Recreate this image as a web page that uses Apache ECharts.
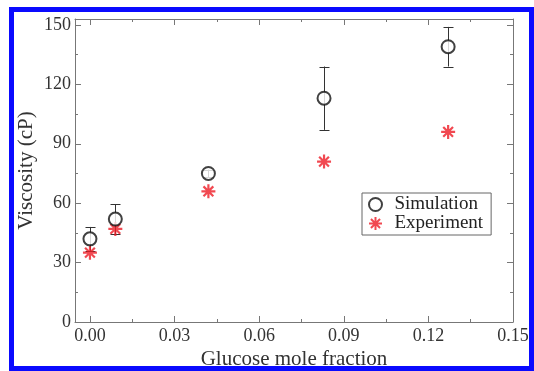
<!DOCTYPE html>
<html>
<head>
<meta charset="utf-8">
<script src="https://cdn.jsdelivr.net/npm/echarts@6/dist/echarts.min.js"></script>
<style>
html,body{margin:0;padding:0;background:#fff;}
#c{width:534px;height:371px;}
</style>
</head>
<body>
<div id="c"></div>
<script>
const xMajor = [0, 0.03, 0.06, 0.09, 0.12, 0.15];
const xMinor = [0.015, 0.045, 0.075, 0.105, 0.135];
const yMajor = [0, 30, 60, 90, 120, 150];
const yMinor = [15, 45, 75, 105, 135];
const moleFraction = [0.0, 0.009, 0.042, 0.083, 0.127];
const simulation = [42, 52, 75, 113, 139];
const simulationErr = [6, 7.5, 2, 16, 10];
const experiment = [35, 47, 66, 81, 96];

const X_MIN = -0.0053, X_MAX = 0.15, Y_MIN = 0, Y_MAX = 153;
const axisColor = '#777';
const font = 'Liberation Serif, Times New Roman, serif';

function xAx(pos, vals, len, labels, line) {
  return {
    type: 'value', min: X_MIN, max: X_MAX, position: pos,
    axisLine: { show: line, onZero: false, lineStyle: { color: axisColor, width: 1 } },
    axisTick: { show: true, inside: true, length: len, customValues: vals, lineStyle: { color: axisColor } },
    axisLabel: labels ? { show: true, customValues: vals, formatter: v => v.toFixed(2), fontFamily: font, fontSize: 18, color: '#333', margin: 5 } : { show: false },
    splitLine: { show: false },
    name: labels ? 'Glucose mole fraction' : '', nameLocation: 'middle', nameGap: 27, nameMoveOverlap: false,
    nameTextStyle: { fontFamily: font, fontSize: 21, color: '#333' }
  };
}
function yAx(pos, vals, len, labels, line) {
  return {
    type: 'value', min: Y_MIN, max: Y_MAX, position: pos,
    axisLine: { show: line, onZero: false, lineStyle: { color: axisColor, width: 1 } },
    axisTick: { show: true, inside: true, length: len, customValues: vals, lineStyle: { color: axisColor } },
    axisLabel: labels ? { show: true, customValues: vals, fontFamily: font, fontSize: 18, color: '#333', margin: 4 } : { show: false },
    splitLine: { show: false },
    name: labels ? 'Viscosity (cP)' : '', nameLocation: 'middle', nameGap: 38, nameMoveOverlap: false,
    nameTextStyle: { fontFamily: font, fontSize: 21, color: '#333' }
  };
}

const simData = moleFraction.map((x, i) => [x, simulation[i]]);
const expData = moleFraction.map((x, i) => [x, experiment[i]]);
const errData = moleFraction.map((x, i) => [x, simulation[i] - simulationErr[i], simulation[i] + simulationErr[i]]);

const asterisk = 'path://M5,0 L5,10 M0,5 L10,5 M1.5,1.5 L8.5,8.5 M1.5,8.5 L8.5,1.5';

const chart = echarts.init(document.getElementById('c'), null, { renderer: 'canvas' });
chart.setOption({
  animation: false,
  backgroundColor: '#fff',
  grid: { left: 75, right: 21, top: 19, bottom: 49, outerBoundsMode: 'none', containLabel: false },
  xAxis: [
    xAx('bottom', xMajor, 6, true, true),
    xAx('bottom', xMinor, 3, false, false),
    xAx('top', xMajor, 6, false, true),
    xAx('top', xMinor, 3, false, false)
  ],
  yAxis: [
    yAx('left', yMajor, 6, true, true),
    yAx('left', yMinor, 3, false, false),
    yAx('right', yMajor, 6, false, true),
    yAx('right', yMinor, 3, false, false)
  ],
  legend: {
    orient: 'vertical', left: 362, top: 193, itemGap: 0, itemWidth: 14, itemHeight: 13,
    padding: [2, 8, 2, 6], borderColor: '#666', borderWidth: 1, backgroundColor: '#fff',
    textStyle: { fontFamily: font, fontSize: 19, color: '#222', padding: [0, 0, 0, 7] },
    data: ['Simulation', 'Experiment']
  },
  graphic: [{
    type: 'rect', shape: { x: 11.5, y: 9.5, width: 520, height: 359 },
    style: { fill: 'none', stroke: '#0a0aff', lineWidth: 5 }, z: 100
  }],
  series: [
    {
      type: 'custom', name: 'err', xAxisIndex: 0, yAxisIndex: 0, z: 1,
      data: errData,
      renderItem: function (params, api) {
        const top = api.coord([api.value(0), api.value(2)]);
        const bot = api.coord([api.value(0), api.value(1)]);
        const x = Math.round(top[0]) + 0.5;
        const w = 5;
        const st = { stroke: '#333', lineWidth: 1 };
        return { type: 'group', children: [
          { type: 'line', shape: { x1: x, y1: top[1], x2: x, y2: bot[1] }, style: st },
          { type: 'line', shape: { x1: x - w, y1: Math.round(top[1]) + 0.5, x2: x + w, y2: Math.round(top[1]) + 0.5 }, style: st },
          { type: 'line', shape: { x1: x - w, y1: Math.round(bot[1]) + 0.5, x2: x + w, y2: Math.round(bot[1]) + 0.5 }, style: st }
        ]};
      }
    },
    {
      type: 'scatter', name: 'Simulation', xAxisIndex: 0, yAxisIndex: 0, z: 3,
      data: simData, symbol: 'circle', symbolSize: 13,
      itemStyle: { color: '#fff', borderColor: '#111', borderWidth: 2 }
    },
    {
      type: 'scatter', name: 'Experiment', xAxisIndex: 0, yAxisIndex: 0, z: 2,
      data: expData, symbol: asterisk, symbolSize: 14,
      itemStyle: { color: '#ee1c25', borderColor: '#ee1c25', borderWidth: 2.2 }
    }
  ]
});
</script>
</body>
</html>
